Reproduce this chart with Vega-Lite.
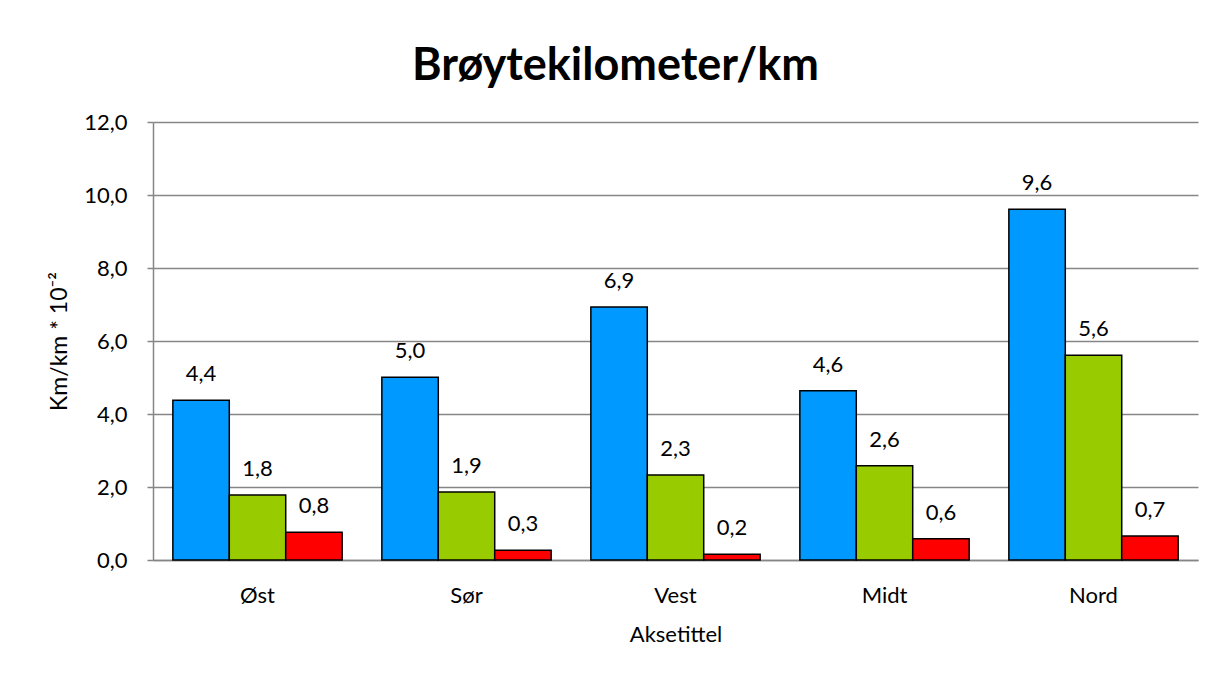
{
  "$schema": "https://vega.github.io/schema/vega-lite/v6.json",
  "autosize": {"type": "none"},
  "width": 1045,
  "height": 438,
  "padding": {"left": 153, "top": 122, "right": 31, "bottom": 119},
  "background": "white",
  "title": {
    "text": "Brøytekilometer/km",
    "font": "Lato",
    "fontSize": 45,
    "fontWeight": "bold",
    "color": "black",
    "anchor": "middle",
    "dx": -60,
    "offset": 22
  },
  "data": {
    "values": [
      {"region": "Øst", "serie": "A", "value": 4.38},
      {"region": "Øst", "serie": "B", "value": 1.78},
      {"region": "Øst", "serie": "C", "value": 0.76},
      {"region": "Sør", "serie": "A", "value": 5.01},
      {"region": "Sør", "serie": "B", "value": 1.86},
      {"region": "Sør", "serie": "C", "value": 0.27},
      {"region": "Vest", "serie": "A", "value": 6.93},
      {"region": "Vest", "serie": "B", "value": 2.33},
      {"region": "Vest", "serie": "C", "value": 0.16},
      {"region": "Midt", "serie": "A", "value": 4.64},
      {"region": "Midt", "serie": "B", "value": 2.58},
      {"region": "Midt", "serie": "C", "value": 0.58},
      {"region": "Nord", "serie": "A", "value": 9.61},
      {"region": "Nord", "serie": "B", "value": 5.61},
      {"region": "Nord", "serie": "C", "value": 0.66}
    ]
  },
  "encoding": {
    "x": {
      "field": "region",
      "type": "nominal",
      "sort": ["Øst", "Sør", "Vest", "Midt", "Nord"],
      "scale": {"paddingInner": 0.19, "paddingOuter": 0.095},
      "axis": {
        "title": "Aksetittel",
        "labelAngle": 0,
        "ticks": false,
        "labelPadding": 25,
        "titlePadding": 18,
        "titleFontSize": 22,
        "domainColor": "#868686",
        "domainWidth": 1.5
      }
    },
    "xOffset": {
      "field": "serie",
      "type": "nominal",
      "scale": {"paddingInner": 0, "paddingOuter": 0}
    },
    "y": {
      "field": "value",
      "type": "quantitative",
      "scale": {"domain": [0, 12], "nice": false},
      "axis": {
        "title": "Km/km * 10⁻²",
        "values": [0, 2, 4, 6, 8, 10, 12],
        "format": ".1f",
        "tickSize": 6,
        "tickColor": "#868686",
        "tickWidth": 1.5,
        "labelPadding": 20,
        "titlePadding": 12,
        "titleFontSize": 23,
        "domainColor": "#868686",
        "domainWidth": 1.5,
        "gridColor": "#868686",
        "gridWidth": 1.5
      }
    }
  },
  "layer": [
    {
      "mark": {"type": "bar", "stroke": "black", "strokeWidth": 1.5},
      "encoding": {
        "color": {
          "field": "serie",
          "type": "nominal",
          "scale": {"domain": ["A", "B", "C"], "range": ["#0099FF", "#99CC00", "#FF0000"]},
          "legend": null
        }
      }
    },
    {
      "mark": {"type": "text", "baseline": "bottom", "dy": -14, "font": "Lato", "fontSize": 22, "color": "black"},
      "encoding": {
        "text": {"field": "value", "type": "quantitative", "format": ".1f"}
      }
    }
  ],
  "config": {
    "locale": {"number": {"decimal": ",", "thousands": " ", "grouping": [3], "currency": ["", " kr"]}},
    "view": {"stroke": null},
    "axis": {
      "labelFont": "Lato",
      "labelFontSize": 22,
      "labelColor": "black",
      "titleFont": "Lato",
      "titleFontSize": 22,
      "titleFontWeight": "normal",
      "titleColor": "black"
    },
    "axisX": {"grid": false}
  }
}
